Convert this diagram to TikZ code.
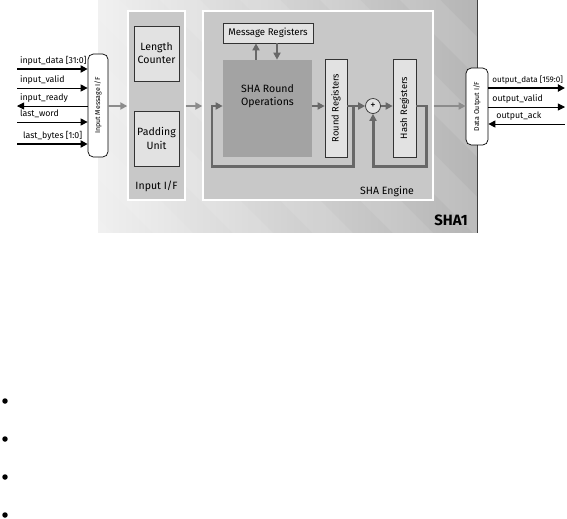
\documentclass[tikz,border=0pt]{standalone}
\usepackage{fontspec}
\setsansfont{Fira Sans}
\usepackage{xcolor}
\usepackage{tikz}
\usetikzlibrary{
    arrows.meta,
    calc
}
\definecolor{panelgray}{HTML}{C8C8C8}
\definecolor{boxgray}{HTML}{E2E2E2}
\definecolor{opgray}{HTML}{A3A3A3}
\definecolor{loopgray}{HTML}{686868}
\definecolor{flowgray}{HTML}{8C8C8C}

\begin{document}
\begin{tikzpicture}[x=0.02cm,y=-0.02cm,font=\sffamily,>={Triangle[length=4pt,width=4pt]}]
    \tikzstyle{panel}=[draw=white, line width=0.8pt, fill=panelgray, inner sep=0pt]
    \tikzstyle{block}=[draw=black!80, line width=0.4pt, fill=boxgray, align=center, inner sep=0pt, font=\sffamily\fontsize{6}{7.5}\selectfont]
    \tikzstyle{port}=[draw=black, line width=0.4pt, fill=white, rounded corners=3pt, inner sep=0pt, font=\sffamily\fontsize{4}{5}\selectfont]
    \tikzstyle{loopline}=[draw=loopgray, line width=1.7pt]
    \tikzstyle{flow}=[->, draw=flowgray, fill=flowgray, line width=1.5pt]
    \tikzstyle{bus}=[line width=1.6pt]
    \tikzstyle{wire}=[line width=0.5pt]
    \tikzstyle{siglabel}=[inner sep=1pt, font=\sffamily\fontsize{5}{6}\selectfont]
    \useasboundingbox (0,0) rectangle (567,518);
    % SHA1 core
    \node[left color=gray!12, right color=gray!58, minimum width=7.58cm, minimum height=4.66cm, inner sep=0pt] (sha1) at (287.5,116.5) {};
    \begin{scope}
        \clip (sha1.south west) rectangle (sha1.north east);
        \foreach \sx in {-240,-160,...,480}
            \fill[white, opacity=0.1] (\sx,0) -- (\sx+40,0) -- (\sx+273,233) -- (\sx+233,233) -- cycle;
    \end{scope}
    \draw[black!75, line width=0.8pt] (sha1.north west) -- (sha1.north east) -- (sha1.south east);
    \node[font=\sffamily\bfseries\fontsize{8.5}{9}\selectfont] (sha1name) at (451,220) {SHA1};
    % interfaces
    \node[panel, minimum width=1.14cm, minimum height=3.78cm] (inputif) at (156.5,105.5) {};
    \node[panel, minimum width=4.6cm, minimum height=3.78cm] (engine) at (318,105.5) {};
    \node[font=\sffamily\fontsize{6}{7}\selectfont] (inputifname) at (156.5,186) {Input I/F};
    \node[font=\sffamily\fontsize{6}{7}\selectfont] (enginename) at (387,192) {SHA Engine};
    \node[block, minimum width=0.9cm, minimum height=1.1cm] (lencnt) at (156.5,53.5) {Length\\Counter};
    \node[block, minimum width=0.9cm, minimum height=1.1cm] (padunit) at (156.5,138.5) {Padding\\Unit};
    \node[block, minimum width=1.8cm, minimum height=0.4cm, font=\sffamily\fontsize{5.5}{6.5}\selectfont] (msgreg) at (268,33) {Message Registers};
    \node[block, draw=none, fill=opgray, minimum width=1.78cm, minimum height=1.94cm] (roundop) at (267.5,108.5) {SHA Round\\Operations\\[8pt]};
    \node[block, minimum width=0.44cm, minimum height=1.96cm, font=\sffamily\fontsize{5.3}{6}\selectfont] (roundreg) at (336,108) {\rotatebox{90}{Round Registers}};
    \node[block, minimum width=0.46cm, minimum height=1.96cm, font=\sffamily\fontsize{5.3}{6}\selectfont] (hashreg) at (404.5,108) {\rotatebox{90}{Hash Registers}};
    \node[circle, draw=black!80, fill=boxgray, line width=0.4pt, minimum size=0.3cm, inner sep=0pt, font=\sffamily\fontsize{6}{6}\selectfont] (adder) at (373,106) {+};
    \node[port, minimum width=0.4cm, minimum height=2.06cm] (inport) at (98,105.5) {\rotatebox{90}{Input Message I/F}};
    \node[port, minimum width=0.44cm, minimum height=1.54cm] (outport) at (477,106.5) {\rotatebox{90}{Data Output I/F}};
    % datapath
    \coordinate (axis) at (0,106);
    \coordinate (rtap) at (353,106);
    \coordinate (rbot) at (212,166);
    \coordinate (htap) at (426,106);
    \coordinate (hbot) at (373,166);
    \draw[flow] (inport.east |- axis) -- (inputif.west |- axis);
    \draw[flow] (inputif.east |- axis) -- (engine.west |- axis);
    \draw[flow] (engine.east |- axis) -- (outport.west |- axis);
    \draw[loopline, ->] (roundop.east |- axis) -- (roundreg.west |- axis);
    \draw[loopline, ->] (roundreg.east |- axis) -- (adder.west);
    \draw[loopline, ->] (rtap) |- (rbot) |- (roundop.west |- axis);
    \draw[loopline, ->] (adder.east) -- (hashreg.west |- axis);
    \draw[loopline, ->] (hashreg.east |- axis) -- (htap) |- (hbot) -- (adder.south);
    \draw[loopline, ->] (roundop.north -| 256,0) -- (msgreg.south -| 256,0);
    \draw[loopline, ->] (msgreg.south -| 277,0) -- (roundop.north -| 277,0);
    % input signals
    \coordinate (in1) at (17,69);
    \coordinate (in2) at (17,88);
    \coordinate (in3) at (17,106);
    \coordinate (in4) at (17,122);
    \coordinate (in5) at (17,144);
    \draw[bus, ->] (in1) -- (in1 -| inport.west);
    \draw[wire, ->] (in2) -- (in2 -| inport.west);
    \draw[wire, <-] (in3) -- (in3 -| inport.west);
    \draw[wire, ->] (in4) -- (in4 -| inport.west);
    \draw[bus, ->] (in5) -- (in5 -| inport.west);
    \node[siglabel, anchor=south west] (lin1) at ($(in1)+(1,-2)$) {input\_data [31:0]};
    \node[siglabel, anchor=south west] (lin2) at ($(in2)+(1,-2)$) {input\_valid};
    \node[siglabel, anchor=south west] (lin3) at ($(in3)+(1,-2)$) {input\_ready};
    \node[siglabel, anchor=south west] (lin4) at ($(in4)+(1,-2)$) {last\_word};
    \node[siglabel, anchor=south west] (lin5) at ($(in5)+(4,-2)$) {last\_bytes [1:0]};
    % output signals
    \coordinate (out1) at (565,88);
    \coordinate (out2) at (565,107);
    \coordinate (out3) at (565,124);
    \draw[bus, ->] (out1 -| outport.east) -- (out1);
    \draw[wire, ->] (out2 -| outport.east) -- (out2);
    \draw[wire, <-] (out3 -| outport.east) -- (out3);
    \node[siglabel, anchor=south west, font=\sffamily\fontsize{4.6}{6}\selectfont] (lout1) at ($(out1 -| outport.east)+(2,-2)$) {output\_data [159:0]};
    \node[siglabel, anchor=south west] (lout2) at ($(out2 -| outport.east)+(2,-2)$) {output\_valid};
    \node[siglabel, anchor=south west] (lout3) at ($(out3 -| outport.east)+(6,-2)$) {output\_ack};
    % bullets
    \foreach \by [count=\i] in {401,439,477,515}
        \node[circle, fill=black, minimum size=0.11cm, inner sep=0pt] (dot\i) at (5,\by) {};
\end{tikzpicture}
\end{document}
